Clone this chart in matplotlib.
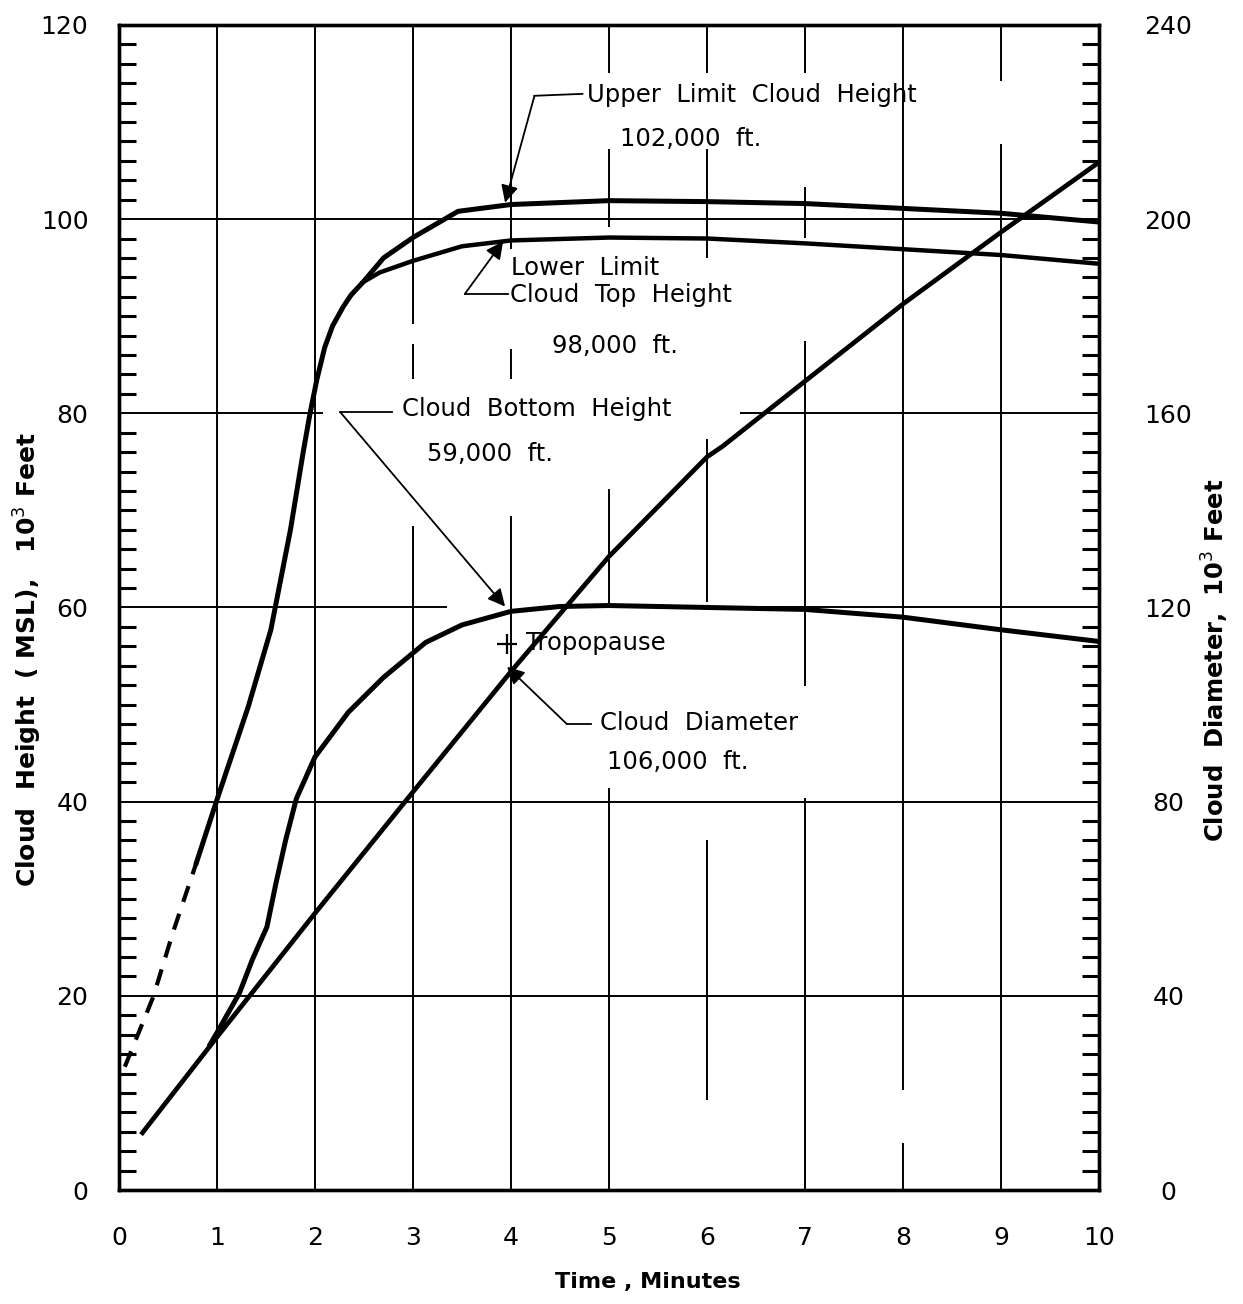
import numpy as np
import matplotlib
matplotlib.use("Agg")
import matplotlib.pyplot as plt

# cloud height curves, 10^3 ft (left axis)
t_dash = [0.06, 0.35, 0.55, 0.79]
h_dash = [12.7, 19.9, 26.5, 33.7]

t_upper = [0.79, 1.0, 1.32, 1.55, 1.75, 1.88, 1.95, 2.02, 2.1, 2.18, 2.29, 2.37, 2.49, 2.7, 3.0, 3.46, 4, 5, 6, 7, 8, 9, 10]
h_upper = [33.7, 40.2, 49.8, 57.7, 68.0, 76.0, 80.0, 83.5, 86.8, 89.0, 91.0, 92.2, 93.5, 96.0, 98.1, 100.8, 101.5, 101.9, 101.8, 101.6, 101.1, 100.6, 99.7]

t_lower = [2.49, 2.66, 3.0, 3.5, 4, 5, 6, 7, 8, 9, 10]
h_lower = [93.5, 94.5, 95.7, 97.2, 97.8, 98.1, 98.0, 97.5, 96.9, 96.3, 95.4]

t_bottom = [0.93, 1.0, 1.23, 1.36, 1.51, 1.6, 1.7, 1.81, 2.0, 2.34, 2.7, 3.13, 3.5, 4, 4.5, 5, 6, 7, 8, 9, 10]
h_bottom = [15.0, 16.2, 20.3, 23.7, 27.1, 31.5, 36.0, 40.3, 44.6, 49.2, 52.8, 56.4, 58.2, 59.6, 60.1, 60.2, 60.0, 59.8, 59.0, 57.7, 56.5]

# cloud diameter, 10^3 ft (right axis)
t_diam = [0.24, 1.0, 2.0, 3.0, 4.0, 5.0, 6.0, 6.16, 7.0, 8.0, 9.0, 10.0]
d_diam = [11.8, 31.5, 57.0, 82.0, 106.8, 130.5, 151.0, 153.2, 166.6, 182.5, 197.3, 211.7]

x_ticks = list(range(0, 11))
left_ticks = [0, 20, 40, 60, 80, 100, 120]
right_ticks = [0, 40, 80, 120, 160, 200, 240]

# gaps in the printed grid (value ranges where the line is missing)
v_breaks = {1: [], 2: [],
            3: [(68.4, 83.5), (87.1, 89.2)],
            4: [(69.4, 83.5), (86.6, 96.9)],
            5: [(41.4, 60.0), (72.2, 99.2), (107.2, 115.0)],
            6: [(0, 9.3), (36.0, 60.6), (77.3, 96.0), (107.2, 115.0)],
            7: [(40.4, 51.9), (87.4, 98.1), (103.3, 115.0)],
            8: [(4.8, 10.3)],
            9: [(107.7, 114.2)]}
h_breaks = {20: [], 40: [], 60: [(3.35, 4.9)], 80: [(2.08, 6.34)], 100: []}


def pieces(lo, hi, gaps):
    pts = [lo]
    for a, b in sorted(gaps):
        pts += [a, b]
    pts.append(hi)
    return [(a, b) for a, b in zip(pts[::2], pts[1::2]) if b > a]


fig = plt.figure(figsize=(12.43, 13.04), dpi=100)
ax = fig.add_axes([0.0957, 0.0874, 0.7884, 0.8935])
ax.set_xlim(0, 10)
ax.set_ylim(0, 120)

# grid
for x, gaps in v_breaks.items():
    for a, b in pieces(0, 120, gaps):
        ax.vlines(x, a, b, color='k', lw=1.4, zorder=1)
for y, gaps in h_breaks.items():
    for a, b in pieces(0, 10, gaps):
        ax.hlines(y, a, b, color='k', lw=1.4, zorder=1)

# curves
ax.plot(t_dash, h_dash, color='k', lw=3.0, ls=(0, (4, 3)), zorder=2)
ax.plot(t_upper, h_upper, color='k', lw=3.6, zorder=2, solid_joinstyle='round')
ax.plot(t_lower, h_lower, color='k', lw=3.2, zorder=2, solid_joinstyle='round')
ax.plot(t_bottom, h_bottom, color='k', lw=3.6, zorder=2, solid_joinstyle='round')

ax2 = ax.twinx()
ax2.set_ylim(0, 240)
ax2.plot(t_diam, d_diam, color='k', lw=3.4, zorder=2, solid_joinstyle='round')

# axes styling
for a in (ax, ax2):
    for s in a.spines.values():
        s.set_linewidth(2.4)
ax.set_xticks(x_ticks)
ax.set_yticks(left_ticks)
ax.set_yticks(np.arange(2, 120, 2), minor=True)
ax.tick_params(axis='both', which='major', length=0, labelsize=18)
ax.tick_params(axis='y', which='major', pad=22)
ax.tick_params(axis='x', which='major', pad=26)
ax.tick_params(axis='y', which='minor', direction='in', length=12, width=2.2)
ax.tick_params(axis='x', which='minor', length=0)
ax2.set_yticks(right_ticks)
ax2.set_yticks(np.arange(4, 240, 4), minor=True)
ax2.tick_params(axis='y', which='major', length=0, labelsize=18, pad=50)
ax2.tick_params(axis='y', which='minor', direction='in', length=12, width=2.2)
plt.setp(ax2.get_yticklabels(), ha='center')

ax.set_xlabel('Time , Minutes', fontsize=16, fontweight='bold')
ax.xaxis.set_label_coords(0.54, -0.07)
ax.set_ylabel('Cloud  Height  ( MSL),   10$^3$ Feet', fontsize=18, fontweight='bold')
ax.yaxis.set_label_coords(-0.076, 0.455)
ax2.set_ylabel('Cloud  Diameter,  10$^3$ Feet', fontsize=17.5, fontweight='bold')
ax2.yaxis.set_label_coords(1.103, 0.455)

arr = dict(arrowstyle='-|>', color='k', lw=1.3, mutation_scale=26, shrinkA=0, shrinkB=0)
tsz = 17.5

# upper limit
ax.text(4.78, 112.8, 'Upper  Limit  Cloud  Height', fontsize=tsz, va='center', ha='left')
ax.text(5.83, 108.2, '102,000  ft.', fontsize=tsz, va='center', ha='center')
ax.plot([4.73, 4.24], [112.9, 112.7], color='k', lw=1.3)
ax.annotate('', xy=(3.94, 101.7), xytext=(4.24, 112.7), arrowprops=arr)

# lower limit
ax.text(4.0, 95.0, 'Lower  Limit', fontsize=tsz, va='center', ha='left')
ax.text(3.99, 92.2, 'Cloud  Top  Height', fontsize=tsz, va='center', ha='left')
ax.text(5.06, 86.9, '98,000  ft.', fontsize=tsz, va='center', ha='center')
ax.plot([3.53, 3.97], [92.3, 92.3], color='k', lw=1.3)
ax.annotate('', xy=(3.92, 97.7), xytext=(3.53, 92.3), arrowprops=arr)

# cloud bottom
ax.text(2.89, 80.4, 'Cloud  Bottom  Height', fontsize=tsz, va='center', ha='left')
ax.text(3.79, 75.8, '59,000  ft.', fontsize=tsz, va='center', ha='center')
ax.plot([2.26, 2.79], [80.1, 80.1], color='k', lw=1.3)
ax.annotate('', xy=(3.94, 60.1), xytext=(2.26, 80.1), arrowprops=arr)

# tropopause
ax.plot([3.96], [56.2], marker='+', ms=14, mew=1.6, color='k')
ax.text(4.15, 56.3, 'Tropopause', fontsize=tsz, va='center', ha='left', zorder=5,
        bbox=dict(facecolor='white', edgecolor='none', pad=2))

# diameter
ax.text(4.91, 48.1, 'Cloud  Diameter', fontsize=tsz, va='center', ha='left')
ax.text(4.98, 44.1, '106,000  ft.', fontsize=tsz, va='center', ha='left')
ax.plot([4.57, 4.82], [48.0, 48.0], color='k', lw=1.3)
ax.annotate('', xy=(3.96, 53.9), xytext=(4.57, 48.0), arrowprops=arr)

fig.savefig('out.png', dpi=100)
